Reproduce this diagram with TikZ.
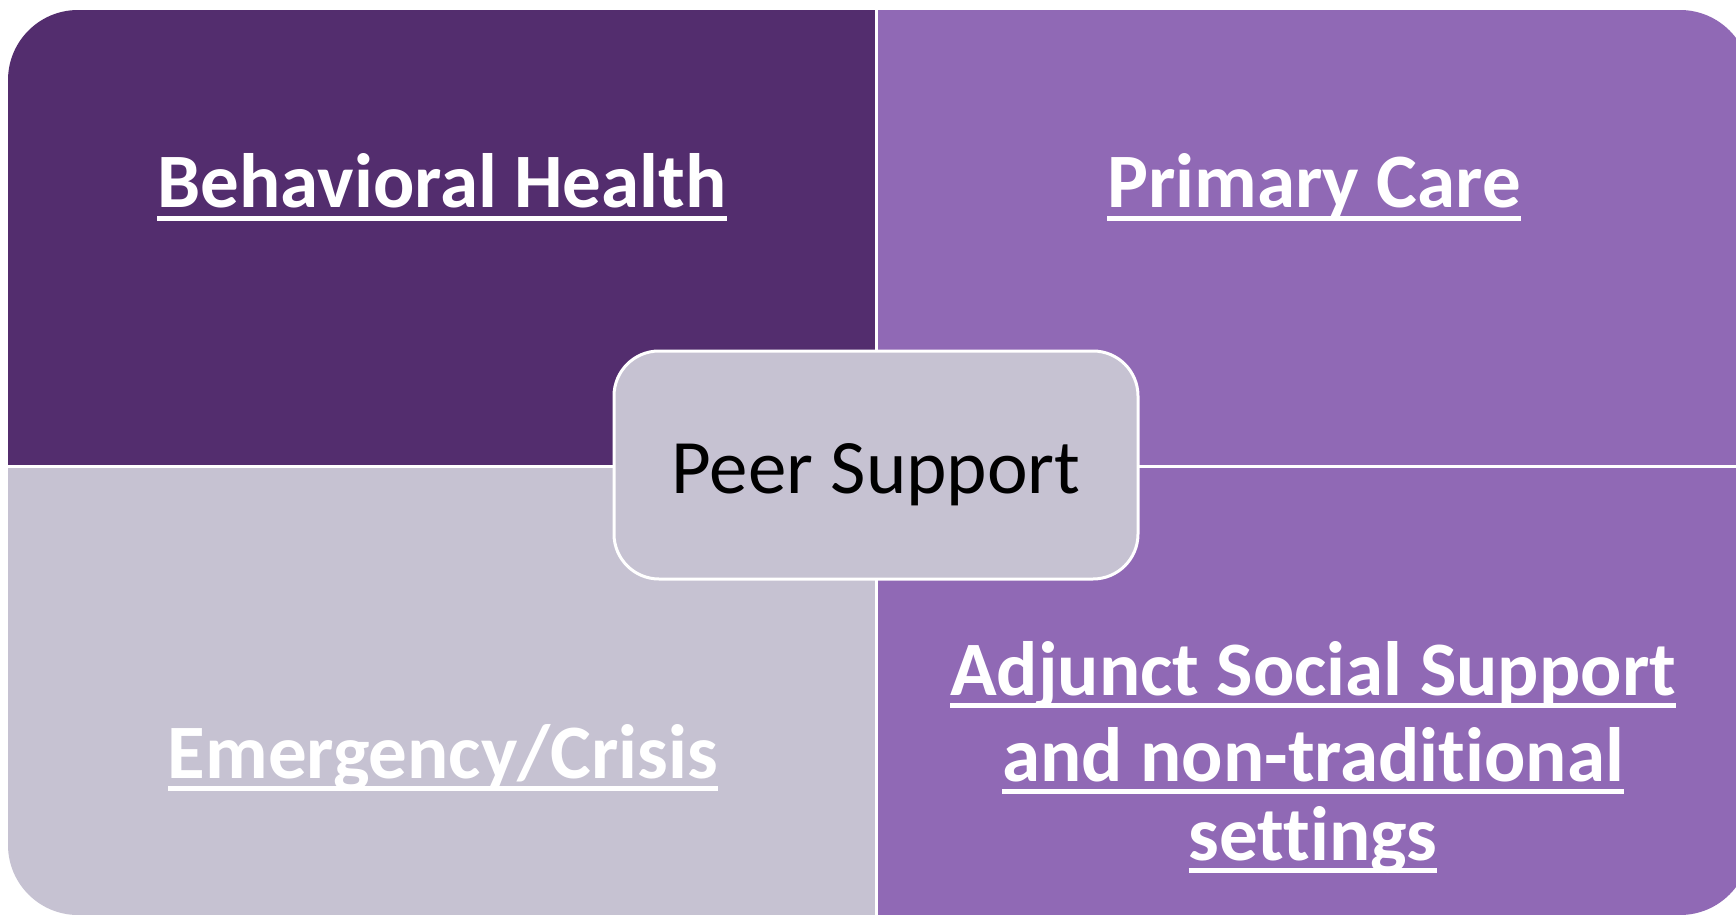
\documentclass[tikz,border=0pt]{standalone}
\usepackage{fontspec}
\setmainfont{Carlito}[Ligatures=NoCommon,RawFeature={-liga;-dlig}]
\definecolor{dpurple}{HTML}{532D6E}
\definecolor{lpurple}{HTML}{9069B5}
\definecolor{lgray}{HTML}{C6C2D2}
\newsavebox\ulb
\newcommand\ulbox[1]{\sbox\ulb{#1}\rlap{\rule[-13pt]{\wd\ulb}{5pt}}\usebox\ulb}
\begin{document}
\begin{tikzpicture}[x=1pt,y=-1pt,
  lbl/.style={text=white, font=\fontsize{77}{82}\selectfont\bfseries, anchor=base, inner sep=0pt},
  centerbox/.style={draw=white, line width=3pt, fill=lgray, rounded corners=45pt,
    minimum width=524pt, minimum height=228pt, inner sep=0pt,
    text height=66pt, text depth=10pt, font=\fontsize{77}{82}\selectfont},
  divider/.style={white, line width=3pt}]
\useasboundingbox (0,0) rectangle (1736,917);
\fill[white] (0,0) rectangle (1736,917);
\begin{scope}
  \clip (0,0) rectangle (1736,917);
  \clip[rounded corners=70pt] (8,10) rectangle (1750,915);
  \fill[dpurple] (8,10) rectangle (876,466);
  \fill[lpurple] (876,10) rectangle (1750,466);
  \fill[lgray] (8,466) rectangle (876,915);
  \fill[lpurple] (876,466) rectangle (1750,915);
  \draw[divider] (876,0) -- (876,917);
  \draw[divider] (0,466) -- (1750,466);
\end{scope}
\node[centerbox] (peer) at (876,465) {Peer Support};
\node[lbl] (bh) at (442,208) {\ulbox{Behavioral Health}};
\node[lbl] (pc) at (1314,208) {\ulbox{Primary Care}};
\node[lbl] (ec) at (443,778) {\ulbox{Emergency/Crisis}};
\node[lbl] (a1) at (1313,695) {\ulbox{Adjunct Social Support}};
\node[lbl] (a2) at (1313,781) {\ulbox{and non-traditional}};
\node[lbl] (a3) at (1313,860) {\ulbox{settings}};
\end{tikzpicture}
\end{document}
